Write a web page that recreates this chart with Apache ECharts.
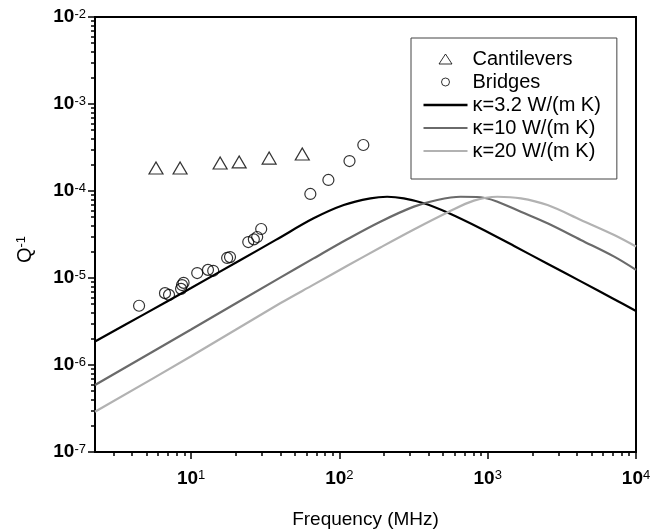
<!DOCTYPE html>
<html>
<head>
<meta charset="utf-8">
<script src="https://cdn.jsdelivr.net/npm/echarts@6/dist/echarts.min.js"></script>
<style>
html,body{margin:0;padding:0;background:#fff;}
#chart{width:659px;height:531px;}
</style>
</head>
<body>
<div id="chart"></div>
<script>
// ---- data ----
const cantFreq = [5.8, 8.43, 15.7, 21.1, 33.6, 56.2];
const cantQ    = [1.84e-4, 1.84e-4, 2.10e-4, 2.16e-4, 2.39e-4, 2.66e-4];

const bridgeFreq = [4.46, 6.67, 7.1, 8.56, 8.69, 8.9, 11.0, 13.0, 14.1, 17.5, 18.3, 24.3, 26.5, 27.9, 29.7, 63.7, 84.3, 117, 145];
const bridgeQ    = [4.8e-6, 6.7e-6, 6.4e-6, 7.5e-6, 8.3e-6, 8.8e-6, 1.14e-5, 1.24e-5, 1.21e-5, 1.70e-5, 1.74e-5, 2.59e-5, 2.78e-5, 2.96e-5, 3.66e-5, 9.25e-5, 1.34e-4, 2.21e-4, 3.38e-4];

const k32Freq = [2.25, 4.74, 10, 21.4, 37.3, 67.0, 107, 162, 210, 272, 371, 535, 897, 1507, 2531, 4246, 7129, 10000];
const k32Q    = [1.86e-6, 3.77e-6, 7.67e-6, 1.60e-5, 2.74e-5, 4.85e-5, 6.90e-5, 8.24e-5, 8.59e-5, 8.24e-5, 7.23e-5, 5.66e-5, 3.71e-5, 2.33e-5, 1.46e-5, 9.14e-6, 5.71e-6, 4.18e-6];

const k10Freq = [2.25, 10, 39.9, 67.0, 113, 189, 318, 457, 657, 897, 1164, 1672, 2531, 4246, 7129, 10000];
const k10Q    = [5.89e-7, 2.56e-6, 1.01e-5, 1.68e-5, 2.79e-5, 4.44e-5, 6.61e-5, 7.89e-5, 8.59e-5, 8.48e-5, 7.53e-5, 5.78e-5, 4.26e-5, 2.74e-5, 1.76e-5, 1.24e-5];

const k20Freq = [2.25, 10, 39.9, 67.0, 113, 189, 318, 535, 807, 1164, 1672, 2531, 4246, 7129, 10000];
const k20Q    = [2.90e-7, 1.26e-6, 5.12e-6, 8.39e-6, 1.38e-5, 2.24e-5, 3.61e-5, 5.66e-5, 7.75e-5, 8.59e-5, 8.24e-5, 6.90e-5, 4.65e-5, 3.12e-5, 2.30e-5];

const seriesNames = ['Cantilevers', 'Bridges', 'κ=3.2 W/(m K)', 'κ=10 W/(m K)', 'κ=20 W/(m K)'];

const xMin = 2.25, xMax = 10000;
const yMin = 1e-7, yMax = 1e-2;
const xMajorTicks = [10, 100, 1000, 10000];
const yMajorTicks = [1e-7, 1e-6, 1e-5, 1e-4, 1e-3, 1e-2];

// ---- helpers ----
const zip = (a, b) => a.map((v, i) => [v, b[i]]);
function minorTicks(lo, hi) {
  const out = [];
  const d0 = Math.floor(Math.log10(lo)), d1 = Math.ceil(Math.log10(hi));
  for (let d = d0; d < d1; d++) {
    for (let m = 2; m <= 9; m++) {
      const v = m * Math.pow(10, d);
      if (v >= lo && v <= hi) out.push(v);
    }
  }
  return out;
}
const xMinor = minorTicks(xMin, xMax);
const yMinor = minorTicks(yMin, yMax);

const FONT = 'Liberation Sans, Arial, sans-serif';
const expFmt = v => '{b|10}{s|' + Math.round(Math.log10(v)) + '}';
const labelRich = {
  b: {fontSize: 19, fontFamily: FONT, fontWeight: 'bold', color: '#000'},
  s: {fontSize: 13, fontFamily: FONT, fontWeight: 'normal', color: '#000', verticalAlign: 'top'}
};

// legend icons (44 x 12 box kept by the two leading move-to points)
const BOX = 'path://M0,0M44,12';
const iconTri = BOX + 'M15.5,11L22,1L28.5,11Z';
const iconCirc = BOX + 'M26,6A4,4,0,1,1,18,6A4,4,0,1,1,26,6Z';
const iconLineThick = BOX + 'M0,4.8L44,4.8L44,7.2L0,7.2Z';
const iconLineThin = BOX + 'M0,5.1L44,5.1L44,6.9L0,6.9Z';

const chart = echarts.init(document.getElementById('chart'), null, {renderer: 'canvas'});

const option = {
  backgroundColor: '#fff',
  animation: false,
  grid: {
    left: 95, right: 23, top: 17, bottom: 79,
    show: true, borderColor: '#000', borderWidth: 2,
    outerBoundsMode: 'none'
  },
  legend: {
    show: true,
    orient: 'vertical',
    left: 411, top: 38,
    padding: [11, 16, 18, 12],
    itemGap: 3,
    itemWidth: 44,
    itemHeight: 12,
    symbolKeepAspect: true,
    selectedMode: false,
    backgroundColor: '#fff',
    borderColor: '#444',
    borderWidth: 1,
    borderRadius: 0,
    textStyle: {fontSize: 20, fontFamily: FONT, color: '#000'},
    data: [
      {name: seriesNames[0], icon: iconTri, itemStyle: {color: 'rgba(255,255,255,0)', borderColor: '#000', borderWidth: 1}},
      {name: seriesNames[1], icon: iconCirc, itemStyle: {color: 'rgba(255,255,255,0)', borderColor: '#000', borderWidth: 1}},
      {name: seriesNames[2], icon: iconLineThick, itemStyle: {color: '#000', borderWidth: 0}},
      {name: seriesNames[3], icon: iconLineThin, itemStyle: {color: '#6a6a6a', borderWidth: 0}},
      {name: seriesNames[4], icon: iconLineThin, itemStyle: {color: '#b2b2b2', borderWidth: 0}}
    ]
  },
  xAxis: [
    {
      type: 'log', min: xMin, max: xMax, position: 'bottom',
      name: 'Frequency (MHz)', nameLocation: 'middle', nameGap: 58,
      nameTextStyle: {fontSize: 19, fontFamily: FONT, color: '#000'},
      axisLine: {show: true, lineStyle: {color: '#000', width: 2}},
      axisTick: {show: true, inside: false, length: 4, lineStyle: {color: '#000', width: 1.5}, customValues: xMinor},
      axisLabel: {show: false},
      splitLine: {show: false}, minorTick: {show: false}
    },
    {
      type: 'log', min: xMin, max: xMax, position: 'bottom',
      axisLine: {show: false},
      axisTick: {show: true, inside: false, length: 7, lineStyle: {color: '#000', width: 1.5}, customValues: xMajorTicks},
      axisLabel: {show: true, margin: 17, formatter: expFmt, rich: labelRich, customValues: xMajorTicks},
      splitLine: {show: false}
    }
  ],
  yAxis: [
    {
      type: 'log', min: yMin, max: yMax, position: 'left',
      name: '{q|Q}{s|-1}', nameLocation: 'middle', nameGap: 60,
      nameTextStyle: {padding: [0, 30, 0, 0], rich: {
        q: {fontSize: 20, fontFamily: FONT, color: '#000'},
        s: {fontSize: 13, fontFamily: FONT, color: '#000', verticalAlign: 'top'}
      }},
      axisLine: {show: true, lineStyle: {color: '#000', width: 2}},
      axisTick: {show: true, inside: false, length: 4, lineStyle: {color: '#000', width: 1.5}, customValues: yMinor},
      axisLabel: {show: false},
      splitLine: {show: false}, minorTick: {show: false}
    },
    {
      type: 'log', min: yMin, max: yMax, position: 'left',
      axisLine: {show: false},
      axisTick: {show: true, inside: false, length: 7, lineStyle: {color: '#000', width: 1.5}, customValues: yMajorTicks},
      axisLabel: {show: true, margin: 9, formatter: expFmt, rich: labelRich, customValues: yMajorTicks},
      splitLine: {show: false}
    }
  ],
  series: [
    {
      name: seriesNames[0], type: 'scatter', xAxisIndex: 0, yAxisIndex: 0,
      symbol: 'triangle', symbolSize: [14, 12],
      itemStyle: {color: 'rgba(255,255,255,0)', borderColor: '#000', borderWidth: 1.2},
      data: zip(cantFreq, cantQ), z: 5
    },
    {
      name: seriesNames[1], type: 'scatter', xAxisIndex: 0, yAxisIndex: 0,
      symbol: 'circle', symbolSize: 11,
      itemStyle: {color: 'rgba(255,255,255,0)', borderColor: '#000', borderWidth: 1.2},
      data: zip(bridgeFreq, bridgeQ), z: 5
    },
    {
      name: seriesNames[2], type: 'line', xAxisIndex: 0, yAxisIndex: 0,
      showSymbol: false, symbol: 'none', smooth: 0.35,
      lineStyle: {color: '#000', width: 2.2}, itemStyle: {color: '#000'},
      data: zip(k32Freq, k32Q), z: 3
    },
    {
      name: seriesNames[3], type: 'line', xAxisIndex: 0, yAxisIndex: 0,
      showSymbol: false, symbol: 'none', smooth: 0.35,
      lineStyle: {color: '#6a6a6a', width: 2.2}, itemStyle: {color: '#6a6a6a'},
      data: zip(k10Freq, k10Q), z: 3
    },
    {
      name: seriesNames[4], type: 'line', xAxisIndex: 0, yAxisIndex: 0,
      showSymbol: false, symbol: 'none', smooth: 0.35,
      lineStyle: {color: '#b2b2b2', width: 2.2}, itemStyle: {color: '#b2b2b2'},
      data: zip(k20Freq, k20Q), z: 3
    }
  ]
};
chart.setOption(option);
</script>
</body>
</html>
